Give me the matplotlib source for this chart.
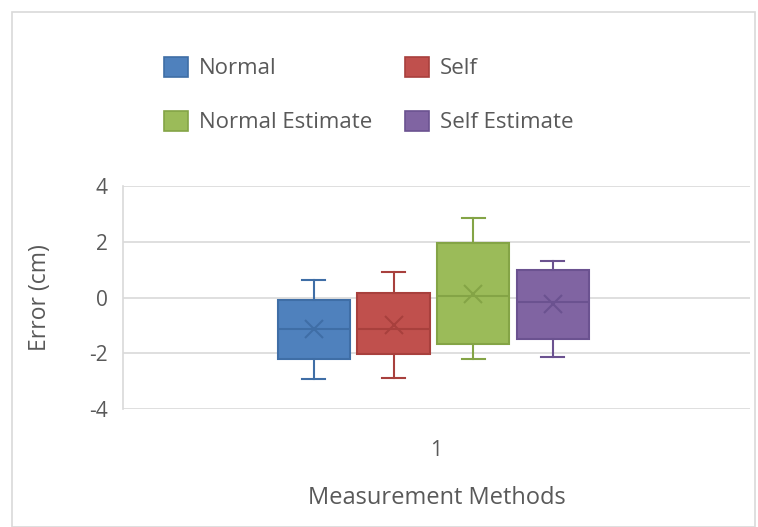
import matplotlib
matplotlib.use("Agg")
import matplotlib.pyplot as plt
from matplotlib.patches import Patch, Rectangle

series = ["Normal", "Self", "Normal Estimate", "Self Estimate"]
whisker_low = [-2.92, -2.88, -2.22, -2.12]
q1 = [-2.22, -2.04, -1.66, -1.48]
median = [-1.14, -1.14, 0.06, -0.16]
q3 = [-0.08, 0.16, 1.96, 0.98]
whisker_high = [0.64, 0.90, 2.86, 1.30]
mean = [-1.12, -1.0, 0.14, -0.22]
category = "1"

face = ["#4F81BD", "#C0504D", "#9BBB59", "#8064A2"]
edge = ["#3F6EA6", "#A8403D", "#84A446", "#6B5290"]
text_col = "#595959"

plt.rcParams["font.family"] = ["Open Sans", "DejaVu Sans"]
plt.rcParams["axes.unicode_minus"] = False

fig = plt.figure(figsize=(7.58, 5.27), dpi=100)
ax = fig.add_axes([123 / 758, 1 - 409 / 527, 627 / 758, 223 / 527])

step = 0.127
width = 0.115
for i, name in enumerate(series):
    pos = 1 - 0.005 + (i - 1.5) * step
    st = [{"whislo": whisker_low[i], "q1": q1[i], "med": median[i],
           "q3": q3[i], "whishi": whisker_high[i], "mean": mean[i],
           "fliers": []}]
    ax.bxp(st, positions=[pos], widths=width, patch_artist=True,
           showmeans=True, manage_ticks=False,
           boxprops=dict(facecolor=face[i], edgecolor=edge[i], linewidth=1.5),
           medianprops=dict(color=edge[i], linewidth=1.5),
           whiskerprops=dict(color=edge[i], linewidth=1.5),
           capprops=dict(color=edge[i], linewidth=1.5),
           meanprops=dict(marker="x", markeredgecolor=edge[i], markersize=13,
                          markeredgewidth=1.5),
           capwidths=width * 0.32)

ax.set_xlim(0.5, 1.5)
ax.set_ylim(-4, 4)
ax.set_yticks([-4, -2, 0, 2, 4])
ax.set_xticks([1])
ax.set_xticklabels([category])
ax.yaxis.grid(True, color="#D9D9D9", linewidth=1.2)
ax.set_axisbelow(True)
for s in ["top", "right", "bottom"]:
    ax.spines[s].set_visible(False)
ax.spines["left"].set_color("#D9D9D9")
ax.spines["left"].set_linewidth(1.2)
ax.tick_params(length=0, colors=text_col, labelsize=15, pad=11)
ax.tick_params(axis="x", pad=22)

fig.text(40 / 758, 1 - 298 / 527, "Error (cm)", rotation=90, ha="center",
         va="center", color=text_col, fontsize=16.5)
fig.text(437 / 758, 1 - 498 / 527, "Measurement Methods", ha="center",
         va="center", color=text_col, fontsize=17)

# row-major order in legend: Normal, Self / Normal Estimate, Self Estimate
order = [0, 2, 1, 3]
handles = [Patch(facecolor=face[i], edgecolor=edge[i], linewidth=1.2)
           for i in order]
fig.legend(handles, [series[i] for i in order], loc="upper left",
           bbox_to_anchor=(148 / 758, 1 - 41 / 527),
           ncol=2, frameon=False, fontsize=16, labelcolor=text_col,
           handlelength=1.1, handleheight=1.05, handletextpad=0.5,
           columnspacing=1.45, labelspacing=1.4, borderpad=0.2)

fig.patches.append(Rectangle((12 / 758, 0), 743 / 758, 1 - 12 / 527,
                             transform=fig.transFigure, fill=False,
                             edgecolor="#D9D9D9", linewidth=1.2))

fig.savefig("out.png", dpi=100)
